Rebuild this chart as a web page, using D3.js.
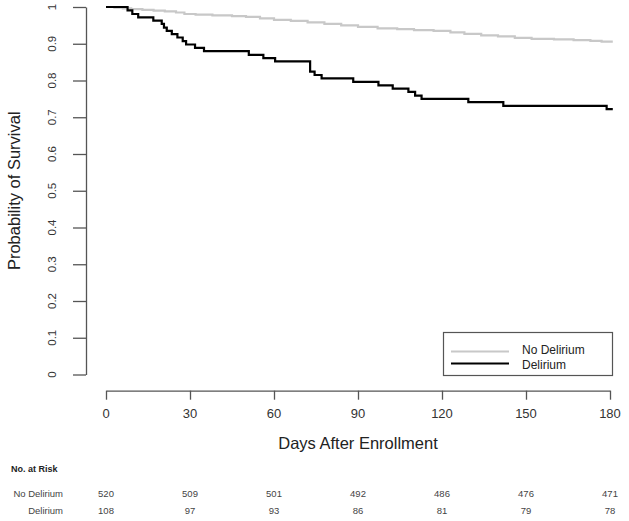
<!DOCTYPE html>
<html>
<head>
<meta charset="utf-8">
<script src="https://cdn.jsdelivr.net/npm/d3@7"></script>
<style>
  body { margin: 0; background: #fff; }
  svg { display: block; font-family: "Liberation Sans", Arial, Helvetica, sans-serif; }
</style>
</head>
<body>
<svg id="chart" width="629" height="521"></svg>
<script>
// ---- Data ----
const seriesNames = ["No Delirium", "Delirium"];

// Delirium group: step times (days) and survival after each step
const delTimes = [0, 7.7, 9.4, 11.5, 16.9, 19.9, 20.7, 21.7, 23.5, 25.5, 27.4, 28.6, 31.8, 35, 51, 56.2, 60.4, 72.9, 74.5, 77, 88.3, 97.3, 102.4, 108, 110.4, 112.7, 129.4, 141.9, 178.8, 181];
const delSurv  = [1, 0.991, 0.981, 0.972, 0.963, 0.954, 0.944, 0.935, 0.926, 0.917, 0.907, 0.898, 0.889, 0.880, 0.870, 0.861, 0.852, 0.824, 0.815, 0.806, 0.796, 0.787, 0.778, 0.769, 0.759, 0.750, 0.741, 0.731, 0.722, 0.722];

// No Delirium group
const noDelTimes = [0, 3, 6, 9, 13, 17, 21, 25, 28, 32, 38, 45, 50, 55, 60, 66, 72, 78, 84, 90, 97, 104, 110, 117, 123, 128, 134, 140, 146, 152, 160, 167, 173, 177, 181];
const noDelSurv  = [1, 0.998, 0.996, 0.994, 0.992, 0.990, 0.988, 0.985, 0.981, 0.979, 0.977, 0.975, 0.973, 0.969, 0.965, 0.962, 0.958, 0.954, 0.950, 0.946, 0.942, 0.940, 0.937, 0.935, 0.931, 0.927, 0.923, 0.920, 0.916, 0.913, 0.912, 0.910, 0.908, 0.906, 0.906];

const xTicks = [0, 30, 60, 90, 120, 150, 180];
const yTicks = [0, 0.1, 0.2, 0.3, 0.4, 0.5, 0.6, 0.7, 0.8, 0.9, 1];
const yTickLabels = ["0", "0.1", "0.2", "0.3", "0.4", "0.5", "0.6", "0.7", "0.8", "0.9", "1"];

const riskNoDel = [520, 509, 501, 492, 486, 476, 471];
const riskDel   = [108, 97, 93, 86, 81, 79, 78];

// ---- Drawing ----
const svg = d3.select("#chart");
const axisColor = "#555";
const x = d3.scaleLinear().domain([0, 180]).range([106, 610]);
const y = d3.scaleLinear().domain([0, 1]).range([374.5, 7]);

// Y axis
const yAxis = svg.append("g").attr("transform", "translate(86,0)")
  .call(d3.axisLeft(y).tickValues(yTicks).tickSize(13).tickSizeOuter(0).tickFormat(""));
yAxis.select(".domain").attr("stroke", axisColor).attr("stroke-width", 1.3);
yAxis.selectAll(".tick line").attr("stroke", axisColor).attr("stroke-width", 1.3);

svg.append("g").selectAll("text").data(yTicks).join("text")
  .attr("transform", d => `translate(52,${y(d)}) rotate(-90)`)
  .attr("text-anchor", "middle").attr("dy", "0.36em")
  .attr("font-size", 11.5).attr("fill", "#333")
  .text((d, i) => yTickLabels[i]);

svg.append("text")
  .attr("transform", `translate(14,${(y(0) + y(1)) / 2}) rotate(-90)`)
  .attr("text-anchor", "middle").attr("dy", "0.36em")
  .attr("font-size", 16.5).attr("fill", "#222")
  .text("Probability of Survival");

// X axis
const xAxis = svg.append("g").attr("transform", "translate(0,390.7)")
  .call(d3.axisBottom(x).tickValues(xTicks).tickSize(9).tickSizeOuter(0).tickFormat(""));
xAxis.select(".domain").attr("stroke", axisColor).attr("stroke-width", 1.3);
xAxis.selectAll(".tick line").attr("stroke", axisColor).attr("stroke-width", 1.3);

svg.append("g").selectAll("text").data(xTicks).join("text")
  .attr("x", d => x(d)).attr("y", 413).attr("dy", "0.36em")
  .attr("text-anchor", "middle").attr("font-size", 13).attr("fill", "#333")
  .text(d => d);

svg.append("text")
  .attr("x", (x(0) + x(180)) / 2).attr("y", 443).attr("dy", "0.36em")
  .attr("text-anchor", "middle").attr("font-size", 16.5).attr("fill", "#222")
  .text("Days After Enrollment");

// Curves
const line = d3.line().x(d => x(d[0])).y(d => y(d[1])).curve(d3.curveStepAfter);
const noDelData = noDelTimes.map((t, i) => [t, noDelSurv[i]]);
const delData = delTimes.map((t, i) => [t, delSurv[i]]);

svg.append("path").datum(noDelData).attr("d", line)
  .attr("fill", "none").attr("stroke", "#c8c8c8").attr("stroke-width", 2.2);
svg.append("path").datum(delData).attr("d", line)
  .attr("fill", "none").attr("stroke", "#000").attr("stroke-width", 2.2);

// Legend
const lg = svg.append("g");
lg.append("rect").attr("x", 443.5).attr("y", 332.5).attr("width", 169).attr("height", 43)
  .attr("fill", "#fff").attr("stroke", axisColor).attr("stroke-width", 1.2);
const legColors = ["#c8c8c8", "#000"];
const legLineY = [351.5, 363.5];
const legTextY = [350, 364.5];
seriesNames.forEach((name, i) => {
  lg.append("line").attr("x1", 451).attr("x2", 509).attr("y1", legLineY[i]).attr("y2", legLineY[i])
    .attr("stroke", legColors[i]).attr("stroke-width", 2.2);
  lg.append("text").attr("x", 522).attr("y", legTextY[i]).attr("dy", "0.36em")
    .attr("font-size", 12).attr("fill", "#222").text(name);
});

// Number at risk table
svg.append("text").attr("x", 11).attr("y", 469).attr("dy", "0.36em")
  .attr("font-size", 9).attr("font-weight", "bold").attr("fill", "#222").text("No. at Risk");

const rows = [{ name: seriesNames[0], vals: riskNoDel, yy: 494 }, { name: seriesNames[1], vals: riskDel, yy: 511 }];
rows.forEach(r => {
  svg.append("text").attr("x", 63).attr("y", r.yy).attr("dy", "0.36em")
    .attr("text-anchor", "end").attr("font-size", 9.5).attr("fill", "#444").text(r.name);
  svg.append("g").selectAll("text").data(r.vals).join("text")
    .attr("x", (d, i) => x(xTicks[i])).attr("y", r.yy).attr("dy", "0.36em")
    .attr("text-anchor", "middle").attr("font-size", 9.5).attr("fill", "#444")
    .text(d => d);
});
</script>
</body>
</html>
